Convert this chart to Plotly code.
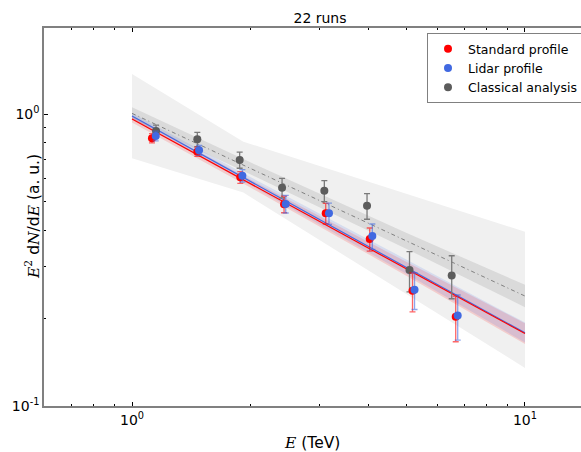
import plotly.graph_objects as go

# ---- data ----
energy_std = [1.124, 1.466, 1.886, 2.437, 3.111, 4.026, 5.173, 6.664]
flux_std = [0.826, 0.743, 0.607, 0.491, 0.457, 0.373, 0.248, 0.202]
err_std = [0.030, 0.027, 0.028, 0.032, 0.037, 0.034, 0.038, 0.036]

energy_lidar = [1.149, 1.481, 1.909, 2.461, 3.171, 4.088, 5.235, 6.742]
flux_lidar = [0.841, 0.751, 0.615, 0.492, 0.457, 0.382, 0.250, 0.204]
err_lidar = [0.032, 0.029, 0.030, 0.034, 0.038, 0.038, 0.036, 0.036]

energy_cls = [1.151, 1.466, 1.879, 2.409, 3.086, 3.963, 5.083, 6.509]
flux_cls = [0.874, 0.819, 0.696, 0.559, 0.546, 0.485, 0.292, 0.280]
err_cls = [0.042, 0.046, 0.044, 0.043, 0.045, 0.049, 0.046, 0.047]

fit_e = [1, 10]
fit_std = [0.961, 0.177]
fit_lidar = [0.984, 0.178]
fit_cls = [1.005, 0.238]

band_e = [1, 2, 5, 10]
std_hi = [0.988, 0.596, 0.311, 0.192]
std_lo = [0.935, 0.560, 0.279, 0.163]
lidar_hi = [1.008, 0.608, 0.317, 0.193]
lidar_lo = [0.961, 0.571, 0.283, 0.165]
cls_hi = [1.054, 0.683, 0.391, 0.260]
cls_lo = [0.959, 0.622, 0.345, 0.218]

syst_e = [1, 1.92, 10]
syst_hi = [1.371, 0.804, 0.395]
syst_lo = [0.705, 0.538, 0.135]

x_tickvals = [1, 10]
x_ticktext = ["10<sup>0</sup>", "10<sup>1</sup>"]
x_minor = [0.6, 0.7, 0.8, 0.9, 2, 3, 4, 5, 6, 7, 8, 9]
y_tickvals = [0.1, 1]
y_ticktext = ["10<sup>-1</sup>", "10<sup>0</sup>"]
y_minor = [0.2, 0.3, 0.4, 0.5, 0.6, 0.7, 0.8, 0.9]

RED = "#ff0000"
BLUE = "#4169e1"
GRAY = "#5c5c5c"
AX = "#808080"
FONT = "DejaVu Sans"


def band(e, hi, lo, color):
    return go.Scatter(x=list(e) + list(e)[::-1], y=list(hi) + list(lo)[::-1],
                      fill="toself", fillcolor=color, line=dict(width=0),
                      mode="lines", showlegend=False, hoverinfo="skip")


fig = go.Figure()
fig.add_trace(band(syst_e, syst_hi, syst_lo, "#f0f0f0"))
fig.add_trace(band(band_e, cls_hi, cls_lo, "rgba(128,128,128,0.2)"))
fig.add_trace(band(band_e, std_hi, std_lo, "rgba(255,0,0,0.15)"))
fig.add_trace(band(band_e, lidar_hi, lidar_lo, "rgba(65,105,225,0.15)"))

fig.add_trace(go.Scatter(x=fit_e, y=fit_cls, mode="lines", showlegend=False,
                         line=dict(color="#808080", width=1, dash="4px,3px,1px,3px")))
fig.add_trace(go.Scatter(x=fit_e, y=fit_lidar, mode="lines", showlegend=False,
                         line=dict(color=BLUE, width=1.2)))
fig.add_trace(go.Scatter(x=fit_e, y=fit_std, mode="lines", showlegend=False,
                         line=dict(color=RED, width=1.2)))

fig.add_trace(go.Scatter(x=energy_cls, y=flux_cls, mode="markers", name="Classical analysis",
                         legendrank=3, marker=dict(color=GRAY, size=8),
                         error_y=dict(type="data", array=err_cls, color="#7a7a7a",
                                      thickness=1.3, width=3)))
fig.add_trace(go.Scatter(x=energy_std, y=flux_std, mode="markers", name="Standard profile",
                         legendrank=1, marker=dict(color=RED, size=8),
                         error_y=dict(type="data", array=err_std, color="rgba(255,0,0,0.6)",
                                      thickness=1.3, width=3)))
fig.add_trace(go.Scatter(x=energy_lidar, y=flux_lidar, mode="markers", name="Lidar profile",
                         legendrank=2, marker=dict(color=BLUE, size=8),
                         error_y=dict(type="data", array=err_lidar, color="rgba(65,105,225,0.6)",
                                      thickness=1.3, width=3)))

L, T, B, R = 44, 28, 46, 4
W, H = 600, 452
pw, ph = W - L - R, H - T - B

fig.update_layout(
    width=W, height=H,
    margin=dict(l=L, r=R, t=T, b=B),
    paper_bgcolor="white", plot_bgcolor="white",
    font=dict(family=FONT, size=14, color="black"),
    title=dict(text="22 runs", x=320 / W, xref="container", xanchor="center",
               y=1 - 18 / H, yref="container", yanchor="middle",
               font=dict(size=14, family=FONT)),
    showlegend=True,
    legend=dict(x=(427 - L) / pw, y=(406 - 33) / ph, xanchor="left", yanchor="top",
                bgcolor="white", bordercolor=AX, borderwidth=1,
                font=dict(size=12.5, family=FONT)),
    xaxis=dict(type="log", range=[-0.224, 1.1807], tickvals=x_tickvals, ticktext=x_ticktext,
               ticks="inside", ticklen=4, tickwidth=1, tickcolor="black",
               showline=True, linecolor=AX, linewidth=1.5, mirror="ticks",
               showgrid=False, zeroline=False,
               minor=dict(tickmode="array", tickvals=x_minor, ticks="inside",
                          ticklen=2.5, tickcolor="black", showgrid=False)),
    yaxis=dict(type="log", range=[-1, 0.2945], tickvals=y_tickvals, ticktext=y_ticktext,
               ticks="inside", ticklen=4, tickwidth=1, tickcolor="black",
               showline=True, linecolor=AX, linewidth=1.5, mirror=False,
               showgrid=False, zeroline=False,
               minor=dict(tickmode="array", tickvals=y_minor, ticks="inside",
                          ticklen=2.5, tickcolor="black", showgrid=False)),
    annotations=[
        dict(text="<span style='font-family:DejaVu Serif'><i>E</i></span> (TeV)",
             x=(312 - L) / pw, y=(406 - 443) / ph, xref="paper", yref="paper",
             xanchor="center", yanchor="middle", showarrow=False,
             font=dict(size=15.5, family=FONT)),
        dict(text="<span style='font-family:DejaVu Serif'><i>E</i><sup>2</sup></span> d"
                  "<span style='font-family:DejaVu Serif'><i>N</i></span>/d"
                  "<span style='font-family:DejaVu Serif'><i>E</i></span> (a. u.)",
             x=(32 - L) / pw, y=(406 - 217) / ph, xref="paper", yref="paper",
             xanchor="center", yanchor="middle", showarrow=False, textangle=-90,
             font=dict(size=15.5, family=FONT)),
    ],
)

fig.write_html("out.html", config={"displayModeBar": False},
               post_script="document.body.style.margin='0';"
                           "document.body.style.overflow='hidden';")
